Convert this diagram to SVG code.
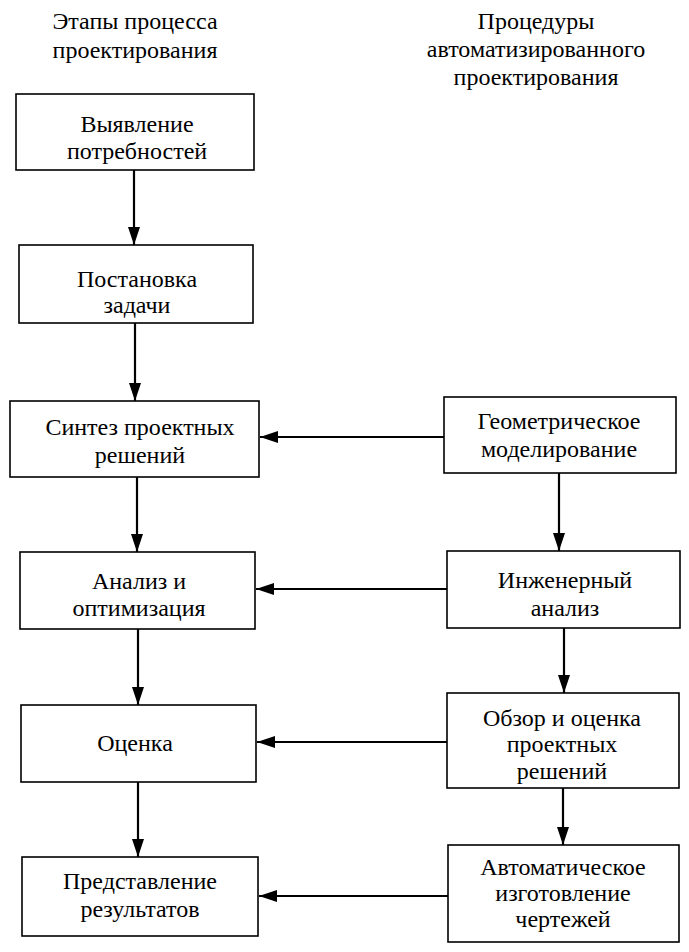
<svg xmlns="http://www.w3.org/2000/svg" width="689" height="952" viewBox="0 0 689 952" font-family="Liberation Serif, DejaVu Serif, serif">
<style>
  .box { fill: #ffffff; stroke: #000000; stroke-width: 1.6; }
  text { font-family: "Liberation Serif", "DejaVu Serif", serif; font-size: 24px; fill: #000000; text-anchor: middle; }
  .c { stroke: #000000; stroke-width: 2.2; fill: none; }
</style>
<defs>
  <marker id="ah" viewBox="0 0 18 12" refX="18" refY="6" markerWidth="18" markerHeight="12" markerUnits="userSpaceOnUse" orient="auto">
    <path d="M0,0 L18,6 L0,12 Z" fill="#000000"/>
  </marker>
</defs>
<rect width="689" height="952" fill="#ffffff"/>
<g id="header-left">
  <text x="135" y="29" font-family="Liberation Serif">Этапы процесса</text>
  <text x="135" y="58" font-family="Liberation Serif">проектирования</text>
</g>
<g id="header-right">
  <text x="536" y="29">Процедуры</text>
  <text x="536" y="57">автоматизированного</text>
  <text x="536" y="85">проектирования</text>
</g>
<g id="n1">
  <rect class="box" x="16" y="94" width="238" height="76"/>
  <text x="137" y="132">Выявление</text>
  <text x="137" y="159">потребностей</text>
</g>
<g id="n2">
  <rect class="box" x="19" y="245" width="234" height="78"/>
  <text x="137" y="287">Постановка</text>
  <text x="137" y="313">задачи</text>
</g>
<g id="n3">
  <rect class="box" x="10" y="401" width="249" height="76"/>
  <text x="140" y="435">Синтез проектных</text>
  <text x="140" y="463">решений</text>
</g>
<g id="n4">
  <rect class="box" x="20" y="552" width="235" height="77"/>
  <text x="139" y="589">Анализ и</text>
  <text x="139" y="616">оптимизация</text>
</g>
<g id="n5">
  <rect class="box" x="21" y="705" width="235" height="77"/>
  <text x="135" y="751">Оценка</text>
</g>
<g id="n6">
  <rect class="box" x="22" y="857" width="236" height="79"/>
  <text x="140" y="889">Представление</text>
  <text x="140" y="917">результатов</text>
</g>
<g id="g1">
  <rect class="box" x="444" y="397" width="232" height="76"/>
  <text x="559" y="429">Геометрическое</text>
  <text x="559" y="457">моделирование</text>
</g>
<g id="g2">
  <rect class="box" x="447" y="551" width="233" height="77"/>
  <text x="565" y="588">Инженерный</text>
  <text x="565" y="616">анализ</text>
</g>
<g id="g3">
  <rect class="box" x="447" y="693" width="232" height="95"/>
  <text x="562" y="726">Обзор и оценка</text>
  <text x="562" y="752">проектных</text>
  <text x="562" y="779">решений</text>
</g>
<g id="g4">
  <rect class="box" x="448" y="845" width="231" height="97"/>
  <text x="563" y="875">Автоматическое</text>
  <text x="563" y="901">изготовление</text>
  <text x="563" y="927">чертежей</text>
</g>
<g id="connectors">
  <line class="c" x1="134" y1="170" x2="134" y2="245" marker-end="url(#ah)"/>
  <line class="c" x1="135" y1="323" x2="135" y2="401" marker-end="url(#ah)"/>
  <line class="c" x1="137" y1="477" x2="137" y2="552" marker-end="url(#ah)"/>
  <line class="c" x1="138" y1="629" x2="138" y2="705" marker-end="url(#ah)"/>
  <line class="c" x1="138" y1="782" x2="138" y2="857" marker-end="url(#ah)"/>
  <line class="c" x1="559" y1="473" x2="559" y2="551" marker-end="url(#ah)"/>
  <line class="c" x1="564" y1="628" x2="564" y2="693" marker-end="url(#ah)"/>
  <line class="c" x1="563" y1="788" x2="563" y2="845" marker-end="url(#ah)"/>
  <line class="c" x1="444" y1="437" x2="260" y2="437" marker-end="url(#ah)"/>
  <line class="c" x1="447" y1="589" x2="256" y2="589" marker-end="url(#ah)"/>
  <line class="c" x1="447" y1="742" x2="257" y2="742" marker-end="url(#ah)"/>
  <line class="c" x1="448" y1="896" x2="259" y2="896" marker-end="url(#ah)"/>
</g>
</svg>
